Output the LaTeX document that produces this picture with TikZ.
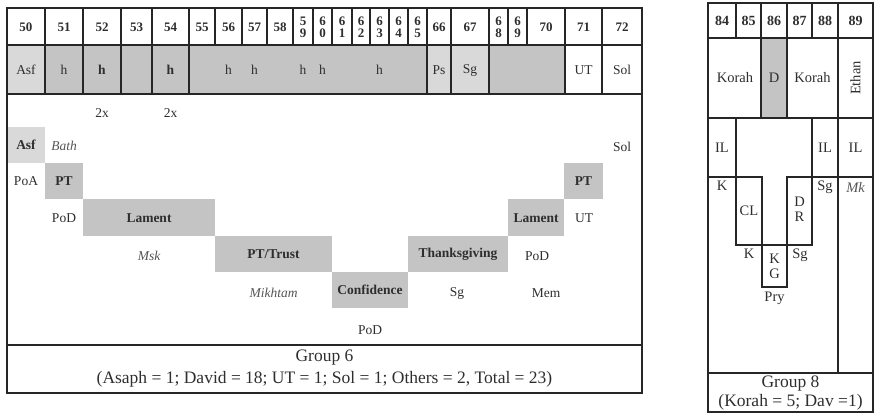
\documentclass[tikz,border=0pt]{standalone}
\usepackage{fontspec}
\setmainfont{Liberation Serif}
\definecolor{lightg}{HTML}{D9D9D9}
\definecolor{midg}{HTML}{C4C4C4}
\definecolor{ink}{HTML}{2E2E2E}
\definecolor{soft}{HTML}{555555}
\tikzset{
  rule/.style={line width=1.1pt, draw=black!85},
  hdr/.style={font=\fontsize{13}{12}\selectfont\bfseries, text=ink, inner sep=0pt, align=center},
  rhdr/.style={font=\fontsize{14}{12}\selectfont\bfseries, text=ink, inner sep=0pt},
  lbl/.style={font=\fontsize{13.5}{14}\selectfont, text=ink, inner sep=0pt},
  boxlbl/.style={font=\fontsize{13.5}{14}\selectfont\bfseries, text=ink, inner sep=0pt},
  itl/.style={font=\fontsize{13.5}{14}\selectfont\itshape, text=soft, inner sep=0pt},
  rlbl/.style={font=\fontsize{14.5}{15}\selectfont, text=ink, inner sep=0pt, align=center},
  grp/.style={font=\fontsize{17.5}{18}\selectfont, text=ink, inner sep=0pt}
}
\begin{document}
\begin{tikzpicture}[x=1pt,y=-1pt]
\useasboundingbox (0,0) rectangle (874,414);

% ---------- Group 6 panel ----------
% shaded cells of the second row
\fill[lightg] (7,45) rectangle (45,94);
\fill[midg] (45,45) rectangle (427,94);
\fill[lightg] (427,45) rectangle (489,94);
\fill[midg] (489,45) rectangle (565,94);

% staircase of psalm types
\fill[lightg] (7,127) rectangle (45,163);
\fill[midg] (45,163) rectangle (83,199);
\fill[midg] (83,199) rectangle (215,236);
\fill[midg] (215,236) rectangle (332,272);
\fill[midg] (332,272) rectangle (408,308);
\fill[midg] (408,236) rectangle (508,272);
\fill[midg] (508,199) rectangle (564,236);
\fill[midg] (564,163) rectangle (603,199);

% frame and rules
\draw[rule] (7,8) rectangle (642,393);
\draw[rule] (7,45) -- (642,45);
\draw[rule] (7,94) -- (642,94);
\draw[rule] (7,345) -- (642,345);
\foreach \x in {45,83,121,152,189,215,242,267,293,313,332,352,370,389,408,427,451,489,508,527,565,602}
  \draw[rule] (\x,8) -- (\x,45);
\foreach \x in {45,83,121,152,189,427,451,489,565,602}
  \draw[rule] (\x,45) -- (\x,94);

% psalm numbers
\node[hdr] (p50) at (26,27) {50};
\node[hdr] (p51) at (64,27) {51};
\node[hdr] (p52) at (102,27) {52};
\node[hdr] (p53) at (136.5,27) {53};
\node[hdr] (p54) at (170.5,27) {54};
\node[hdr] (p55) at (202,27) {55};
\node[hdr] (p56) at (228.5,27) {56};
\node[hdr] (p57) at (254.5,27) {57};
\node[hdr] (p58) at (280,27) {58};
\node[hdr] (p59) at (303,27) {5\\9};
\node[hdr] (p60) at (322.5,27) {6\\0};
\node[hdr] (p61) at (342,27) {6\\1};
\node[hdr] (p62) at (361,27) {6\\2};
\node[hdr] (p63) at (379.5,27) {6\\3};
\node[hdr] (p64) at (398.5,27) {6\\4};
\node[hdr] (p65) at (417.5,27) {6\\5};
\node[hdr] (p66) at (439,27) {66};
\node[hdr] (p67) at (470,27) {67};
\node[hdr] (p68) at (498.5,27) {6\\8};
\node[hdr] (p69) at (517.5,27) {6\\9};
\node[hdr] (p70) at (546,27) {70};
\node[hdr] (p71) at (583.5,27) {71};
\node[hdr] (p72) at (622,27) {72};

% attributions
\node[lbl] (a50) at (26,70) {Asf};
\node[lbl] (a51) at (64,70) {h};
\node[boxlbl] (a52) at (102,70) {h};
\node[boxlbl] (a54) at (170.5,70) {h};
\node[lbl] (a56) at (228.5,70) {h};
\node[lbl] (a57) at (254.5,70) {h};
\node[lbl] (a59) at (303,70) {h};
\node[lbl] (a60) at (322.5,70) {h};
\node[lbl] (a63) at (379.5,70) {h};
\node[lbl] (a66) at (439,70) {Ps};
\node[lbl] (a67) at (470,70) {Sg};
\node[lbl] (a71) at (583.5,70) {UT};
\node[lbl] (a72) at (622,70) {Sol};
\node[lbl] (twice52) at (102,113) {2x};
\node[lbl] (twice54) at (170.5,113) {2x};

% staircase labels
\node[boxlbl] (sAsf) at (26,145) {Asf};
\node[itl] (sBath) at (64,146) {Bath};
\node[lbl] (sSol) at (622,147) {Sol};
\node[lbl] (sPoA) at (26,181) {PoA};
\node[boxlbl] (sPT) at (64,181) {PT};
\node[boxlbl] (sPTr) at (583.5,181) {PT};
\node[lbl] (sPoD1) at (64,218) {PoD};
\node[boxlbl] (sLam) at (149,218) {Lament};
\node[boxlbl] (sLamr) at (536,218) {Lament};
\node[lbl] (sUT) at (584,218) {UT};
\node[itl] (sMsk) at (149,256) {Msk};
\node[boxlbl] (sTrust) at (273.5,254) {PT/Trust};
\node[boxlbl] (sThanks) at (458,254) {Thanksgiving};
\node[lbl] (sPoD2) at (537,256) {PoD};
\node[itl] (sMik) at (273.5,293) {Mikhtam};
\node[boxlbl] (sConf) at (370,290) {Confidence};
\node[lbl] (sSg) at (457,293) {Sg};
\node[lbl] (sMem) at (546,293) {Mem};
\node[lbl] (sPoD3) at (370,330) {PoD};

% group summary
\node[grp] (g6a) at (324.5,358) {Group 6};
\node[grp] (g6b) at (324.5,379) {(Asaph = 1; David = 18; UT = 1; Sol = 1; Others = 2, Total = 23)};

% ---------- Group 8 panel ----------
\fill[midg] (761,38) rectangle (787,118);
\draw[rule] (708,3) rectangle (873,412);
\draw[rule] (708,38) -- (873,38);
\draw[rule] (708,118) -- (873,118);
\draw[rule] (708,373) -- (873,373);
\foreach \x in {736,761,787,812,838}
  \draw[rule] (\x,3) -- (\x,38);
\foreach \x in {761,787,838}
  \draw[rule] (\x,38) -- (\x,118);
\draw[rule] (838,118) -- (838,373);
\draw[rule] (736,118) -- (736,245) -- (812,245) -- (812,118);
\draw[rule] (708,177) -- (762,177) -- (762,287) -- (787,287) -- (787,177) -- (873,177);

\node[rhdr] (p84) at (722,21) {84};
\node[rhdr] (p85) at (748.5,21) {85};
\node[rhdr] (p86) at (774,21) {86};
\node[rhdr] (p87) at (799.5,21) {87};
\node[rhdr] (p88) at (825,21) {88};
\node[rhdr] (p89) at (855.5,21) {89};

\node[rlbl] (kor1) at (735,78) {Korah};
\node[rlbl] (dav) at (774,78) {D};
\node[rlbl] (kor2) at (812.5,78) {Korah};
\node[rlbl, rotate=90] (eth) at (855.5,78) {Ethan};

\node[rlbl] (il1) at (722,148) {IL};
\node[rlbl] (k1) at (722,186) {K};
\node[rlbl] (cl) at (749,211) {CL};
\node[rlbl] (k2) at (749,254) {K};
\node[rlbl] (kg) at (774.5,266) {K\\G};
\node[rlbl] (pry) at (774.5,298) {Pry};
\node[rlbl] (dr) at (799.5,209) {D\\R};
\node[rlbl] (sg1) at (800,255) {Sg};
\node[rlbl] (il2) at (825,148) {IL};
\node[rlbl] (sg2) at (825,187) {Sg};
\node[rlbl] (il3) at (855.5,148) {IL};
\node[rlbl, font=\fontsize{14.5}{15}\selectfont\itshape, text=soft] (mk) at (855.5,187) {Mk};

\node[grp] (g8a) at (790.5,384) {Group 8};
\node[grp] (g8b) at (790.5,402) {(Korah = 5; Dav =1)};
\end{tikzpicture}
\end{document}
